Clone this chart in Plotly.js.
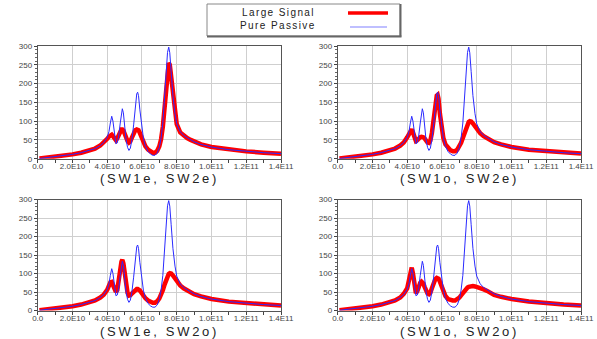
<!DOCTYPE html>
<html><head><meta charset="utf-8">
<script src="https://cdn.plot.ly/plotly-3.0.1.min.js"></script>
<style>html,body{margin:0;padding:0;background:#fff}#chart{width:597px;height:339px}</style>
</head><body><div id="chart"></div>
<script>
// frequency in units of 1E10 Hz
const freq = [0.1,0.5,1.0,1.5,2.0,2.5,3.0,3.3,3.6,3.8,
  4.0,4.1,4.18,4.26,4.33,4.4,4.5,4.58,4.66,4.75,
  4.82,4.87,4.93,5.0,5.08,5.17,5.25,5.33,5.42,5.52,
  5.62,5.7,5.75,5.8,5.88,5.97,6.08,6.2,6.35,6.5,
  6.62,6.75,6.88,7.0,7.1,7.2,7.3,7.4,7.47,7.54,
  7.6,7.68,7.78,7.9,8.0,8.2,8.4,8.6,8.8,9.0,
  9.4,10,11,12,13,14];

const purePassive = [0.5,2.5,5,8,11.5,16,22,27,35,43,
  57,72,95,113,100,68,40,42,60,95,
  124,133,122,88,52,30,22,28,50,90,
  145,173,177,168,130,88,55,33,19,12,
  9,9,15,30,55,95,160,238,283,297,
  282,232,168,120,93,72,62,56,50,45,
  38,31,24,19.5,16,13.5];

const largeSW1eSW2e = [0.5,2.5,5,8,11.5,16,22,27,35,43,
  53,59,63,64,60,53,49,54,64,74,
  78,78,75,67,56,47,43,46,56,68,
  76,78,78,76,68,57,44,33,24,19,
  16,16,21,33,52,85,135,195,238,255,
  250,220,170,120,92,70,61,55,50,45,
  38,31,24,19.5,16,13.5];

const largeSW1oSW2e = [0.5,2.5,5,8,11.5,16,22,27,35,43,
  57,68,76,78,70,56,47,49,54,57,
  58,58,57,54,48,43,42,48,68,105,
  148,168,170,160,120,82,55,38,28,22,
  20,20,24,32,42,55,70,84,92,98,
  100,99,94,86,79,68,60,54,49,44,
  38,31,24,19.5,16,13.5];

const largeSW1eSW2o = [0.5,2.5,5,8,11.5,16,22,27,35,43,
  56,67,76,77,70,58,50,55,75,110,
  132,137,128,100,68,48,40,41,46,52,
  56,58,58,57,54,48,40,33,27,23,
  21,21,25,33,42,55,70,84,93,99,
  101,100,95,87,80,68,60,54,49,44,
  38,31,24,19.5,16,13.5];

const largeSW1oSW2o = [0.5,2.5,5,8,11.5,16,22,27,35,45,
  60,80,105,116,100,68,47,52,66,75,
  78,77,73,64,53,46,44,48,60,75,
  85,88,88,86,78,65,50,39,31,28,
  27,27,30,35,41,48,54,59,62,64,
  65,66,66,65,64,61,57,53,47,42,
  37,31,24.5,19.5,16,13.5];

const panelTitles = ["(SW1e, SW2e)", "(SW1o, SW2e)", "(SW1e, SW2o)", "(SW1o, SW2o)"];
const legendNames = ["Large Signal", "Pure Passive"];
const xTickVals = [0,2,4,6,8,10,12,14];
const xTickText = ["0.0","2.0E10","4.0E10","6.0E10","8.0E10","1.0E11","1.2E11","1.4E11"];
const xTickMarks = [0,1,2,3,4,5,6,7,8,9,10,11,12,13,14];
const yTickVals = [0,50,100,150,200,250,300];

const largeSeries = [largeSW1eSW2e, largeSW1oSW2e, largeSW1eSW2o, largeSW1oSW2o];

const W = 597, H = 339;
const xDomains = [[37.7/W, 281/W],[337.7/W, 581/W],[37.7/W, 281/W],[337.7/W, 581/W]];
const yDomains = [[1-158.7/H, 1-46/H],[1-158.7/H, 1-46/H],[1-310.5/H, 1-199.5/H],[1-310.5/H, 1-199.5/H]];

const traces = [];
const layout = {
  width: W, height: H,
  margin: {l:0, r:0, t:0, b:0},
  paper_bgcolor: '#fff', plot_bgcolor: '#fff',
  showlegend: false,
  font: {family: 'Liberation Sans, Arial, sans-serif', color: '#333'},
  annotations: [], shapes: []
};

const tickFont = {family: 'Liberation Sans, Arial, sans-serif', size: 8, color: '#444'};

for (let i = 0; i < 4; i++) {
  const sfx = i === 0 ? '' : String(i + 1);
  traces.push({x: freq, y: largeSeries[i], type: 'scatter', mode: 'lines',
    name: legendNames[0], xaxis: 'x' + sfx, yaxis: 'y' + sfx,
    line: {color: '#ff0000', width: 4.5}, hoverinfo: 'skip'});
  traces.push({x: freq, y: purePassive, type: 'scatter', mode: 'lines',
    name: legendNames[1], xaxis: 'x' + sfx, yaxis: 'y' + sfx,
    line: {color: '#2a2aff', width: 1}, hoverinfo: 'skip'});
  layout['xaxis' + sfx] = {
    domain: xDomains[i], anchor: 'y' + sfx, range: [0, 14],
    tickmode: 'array', tickvals: xTickVals, ticktext: xTickText,
    ticks: '', tickfont: tickFont,
    showline: true, linecolor: '#555', linewidth: 1, mirror: true,
    showgrid: true, gridcolor: '#cfcfcf', gridwidth: 1, zeroline: false,
    minor: {tickvals: xTickMarks, ticks: 'outside', ticklen: 3, tickcolor: '#444', showgrid: false},
    fixedrange: true
  };
  layout['yaxis' + sfx] = {
    domain: yDomains[i], anchor: 'x' + sfx, range: [0, 300],
    tickmode: 'array', tickvals: yTickVals,
    ticks: 'outside', ticklen: 3, tickcolor: '#444', tickfont: tickFont,
    showline: true, linecolor: '#555', linewidth: 1, mirror: true,
    showgrid: true, gridcolor: '#cfcfcf', gridwidth: 1, zeroline: false,
    minor: {dtick: 10, ticks: 'outside', ticklen: 2, tickcolor: '#666', showgrid: false},
    fixedrange: true
  };
  layout.annotations.push({
    text: '<span style="letter-spacing:2.7px">' + panelTitles[i] + '</span>',
    xref: 'paper', yref: 'paper',
    x: (xDomains[i][0] + xDomains[i][1]) / 2,
    y: i < 2 ? 1 - 178.5/H : 1 - 331/H,
    xanchor: 'center', yanchor: 'middle', showarrow: false,
    font: {family: 'Liberation Sans, Arial, sans-serif', size: 13, color: '#222'}
  });
}

// legend box (drawn manually: text left, line sample right)
layout.shapes.push({type: 'rect', xref: 'paper', yref: 'paper',
  x0: 207/W, x1: 400/W, y0: 1-36/H, y1: 1-4/H,
  line: {color: '#888', width: 1}, fillcolor: '#fff'});
layout.shapes.push({type: 'line', xref: 'paper', yref: 'paper',
  x0: 400.5/W, x1: 400.5/W, y0: 1-36.5/H, y1: 1-4/H, line: {color: '#666', width: 2}});
layout.shapes.push({type: 'line', xref: 'paper', yref: 'paper',
  x0: 207/W, x1: 401.5/W, y0: 1-36.5/H, y1: 1-36.5/H, line: {color: '#666', width: 2}});
layout.shapes.push({type: 'line', xref: 'paper', yref: 'paper',
  x0: 348/W, x1: 388/W, y0: 1-13/H, y1: 1-13/H, line: {color: '#ff0000', width: 3.5}});
layout.shapes.push({type: 'line', xref: 'paper', yref: 'paper',
  x0: 350/W, x1: 387/W, y0: 1-27/H, y1: 1-27/H, line: {color: '#aaaaff', width: 1.5}});
layout.annotations.push({text: '<span style="letter-spacing:1.4px">' + legendNames[0] + '</span>',
  xref: 'paper', yref: 'paper', x: 278/W, y: 1-13/H, xanchor: 'center', yanchor: 'middle',
  showarrow: false, font: {family: 'Liberation Sans, Arial, sans-serif', size: 10, color: '#222'}});
layout.annotations.push({text: '<span style="letter-spacing:1.4px">' + legendNames[1] + '</span>',
  xref: 'paper', yref: 'paper', x: 278/W, y: 1-25/H, xanchor: 'center', yanchor: 'middle',
  showarrow: false, font: {family: 'Liberation Sans, Arial, sans-serif', size: 10, color: '#222'}});

Plotly.newPlot('chart', traces, layout, {staticPlot: true, displayModeBar: false});
</script></body></html>
